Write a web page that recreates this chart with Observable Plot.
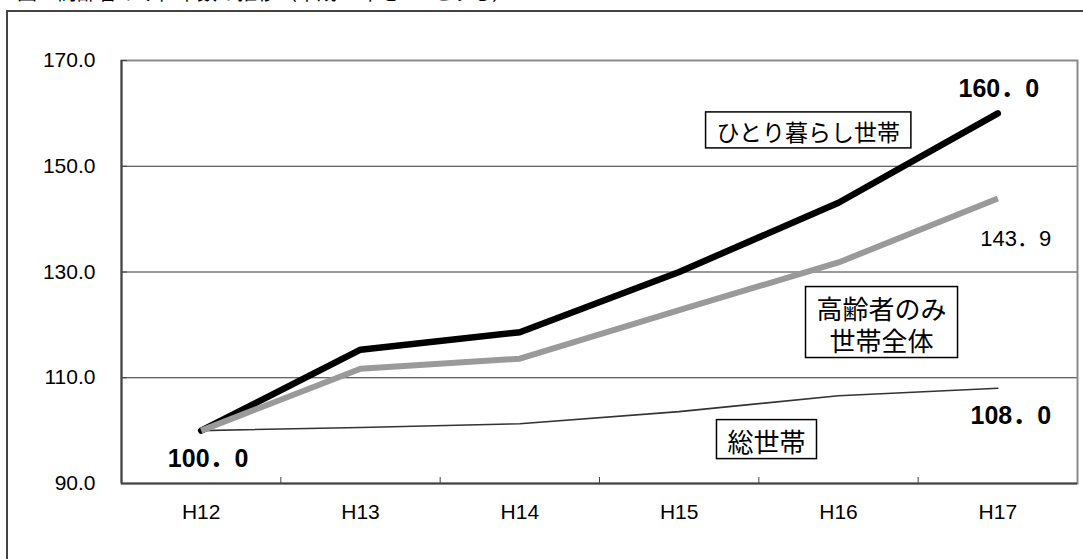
<!DOCTYPE html>
<html><head><meta charset="utf-8">
<script src="https://cdn.jsdelivr.net/npm/d3@7"></script>
<script src="https://cdn.jsdelivr.net/npm/@observablehq/plot@0.6"></script>
<style>
html,body{margin:0;padding:0;background:#fff;overflow:hidden;}
#wrap{position:relative;width:1083px;height:559px;overflow:hidden;background:#fff;}
#frame{position:absolute;left:6px;top:10px;width:1200px;height:700px;border-left:2px solid #444;border-top:2px solid #444;}
#title{position:absolute;left:17px;top:-18px;font-family:"Noto Sans CJK JP";font-size:20px;line-height:20px;white-space:nowrap;color:#000;}
#chart{position:absolute;left:0;top:0;}
</style></head><body>
<div id="wrap"><div id="frame"></div><div id="title">図　高齢者のみ世帯数の推移（平成12年を100とする）</div><div id="chart"></div></div>
<script>
const years = ["H12","H13","H14","H15","H16","H17"];
const singleHouseholds = [100.0, 115.3, 118.6, 130.0, 143.1, 160.0];
const elderlyHouseholds = [100.0, 111.7, 113.6, 122.8, 131.8, 143.9];
const allHouseholds = [100.0, 100.6, 101.3, 103.6, 106.6, 108.0];
const yTicks = [90, 110, 130, 150, 170];
const seriesNames = ["ひとり暮らし世帯", "高齢者のみ\n世帯全体", "総世帯"];

const idx = d3.range(years.length);
const xDomain = [-0.5, years.length - 0.5];
const boundaries = d3.range(0.5, years.length - 1, 1);
const toRows = arr => arr.map((v, i) => ({i, v}));
const fmt = v => d3.format(".1f")(v).replace(".", "．");
const last = arr => [{i: arr.length - 1, v: arr[arr.length - 1]}];
const numFont = '"Liberation Sans", "Noto Sans CJK JP", sans-serif';
const jpFont = '"Noto Sans CJK JP", sans-serif';

const chart = Plot.plot({
  width: 1083,
  height: 559,
  marginLeft: 121,
  marginRight: 6,
  marginTop: 60,
  marginBottom: 76,
  style: {background: "transparent", color: "#000", fontFamily: numFont},
  x: {type: "linear", domain: xDomain, axis: null},
  y: {domain: [yTicks[0], yTicks[yTicks.length - 1]], axis: null},
  marks: [
    Plot.gridY(yTicks.slice(1, -1), {stroke: "#333", strokeOpacity: 1, strokeWidth: 1}),
    Plot.frame({stroke: "#8a8a8a", strokeWidth: 2}),
    Plot.ruleX([xDomain[0]], {stroke: "#444", strokeWidth: 2}),
    Plot.ruleY([yTicks[0]], {stroke: "#444", strokeWidth: 2}),
    Plot.axisY(yTicks, {tickSize: 0, tickPadding: 26, tickFormat: d3.format(".1f"), fontSize: 21, fontFamily: numFont, label: null}),
    Plot.axisY(yTicks, {tickSize: -6, tickFormat: () => "", label: null, stroke: "#444"}),
    Plot.axisX(idx, {tickSize: 0, tickPadding: 21, tickFormat: i => years[i], fontSize: 21, fontFamily: numFont, label: null}),
    Plot.axisX(boundaries, {tickSize: -6, tickFormat: () => "", label: null, stroke: "#444"}),
    Plot.line(toRows(allHouseholds), {x: "i", y: "v", stroke: "#333", strokeWidth: 1.6}),
    Plot.line(toRows(singleHouseholds), {x: "i", y: "v", stroke: "#000", strokeWidth: 6.5, strokeLinecap: "round"}),
    Plot.line(toRows(elderlyHouseholds), {x: "i", y: "v", stroke: "#9a9a9a", strokeWidth: 6, strokeLinecap: "butt"}),
    Plot.text(last(singleHouseholds), {x: "i", y: "v", text: d => fmt(d.v), dx: 1, dy: -24, fontSize: 25, fontWeight: "bold", fontFamily: numFont}),
    Plot.text(last(elderlyHouseholds), {x: "i", y: "v", text: d => fmt(d.v), dx: 18, dy: 40, fontSize: 22, fontFamily: numFont}),
    Plot.text(last(allHouseholds), {x: "i", y: "v", text: d => fmt(d.v), dx: 13, dy: 28, fontSize: 25, fontWeight: "bold", fontFamily: numFont}),
    Plot.text([{i: 0, v: singleHouseholds[0]}], {x: "i", y: "v", text: d => fmt(d.v), dx: 7, dy: 28, fontSize: 25, fontWeight: "bold", fontFamily: numFont}),
    Plot.text([seriesNames[0]], {x: 3.81, y: 156.2, text: d => d, fontSize: 23, fontFamily: jpFont}),
    Plot.text([seriesNames[1]], {x: 4.27, y: 120.1, text: d => d, fontSize: 26, lineHeight: 1.23, fontFamily: jpFont}),
    Plot.text([seriesNames[2]], {x: 3.548, y: 97.6, text: d => d, fontSize: 26, fontFamily: jpFont})
  ]
});
document.getElementById("chart").appendChild(chart);

// draw boxes around the series-name labels, in each text's own coordinate frame
const NS = "http://www.w3.org/2000/svg";
const names = new Set(seriesNames.map(s => s.replace(/\n/g, "")));
chart.querySelectorAll("text").forEach(t => {
  if (!names.has(t.textContent.replace(/\s/g, ""))) return;
  const bb = t.getBBox();
  const g = t.closest("g[font-size]");
  const fs = parseFloat(g ? g.getAttribute("font-size") : 24) || 24;
  const lines = Math.max(1, t.querySelectorAll("tspan").length);
  const lh = fs * 1.23;
  const h = (lines - 1) * lh + fs + 13;
  const cy = bb.y + bb.height / 2 - fs * 0.04;
  const r = document.createElementNS(NS, "rect");
  r.setAttribute("x", bb.x - 11);
  r.setAttribute("y", cy - h / 2);
  r.setAttribute("width", bb.width + 22);
  r.setAttribute("height", h);
  r.setAttribute("fill", "#fff");
  r.setAttribute("stroke", "#000");
  r.setAttribute("stroke-width", 1.5);
  if (t.hasAttribute("transform")) r.setAttribute("transform", t.getAttribute("transform"));
  t.parentNode.insertBefore(r, t);
});
</script>
</body></html>
